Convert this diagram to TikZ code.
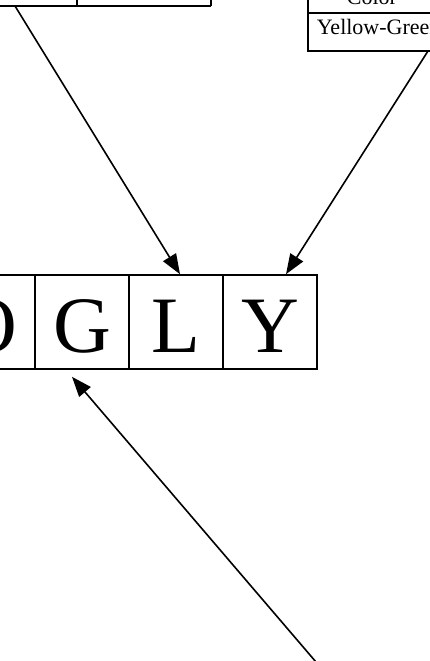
\documentclass[tikz,border=0pt]{standalone}
\usepackage{fontspec}
\setmainfont{Liberation Serif}
\usetikzlibrary{arrows.meta}
\begin{document}
\begin{tikzpicture}[x=1pt,y=-1pt,line width=1.6pt,
  letterbox/.style={draw,minimum width=94pt,minimum height=94pt,inner sep=0pt,
    text height=60pt,text depth=0pt,font=\fontsize{80}{80}\selectfont},
  cell/.style={font=\fontsize{22}{22}\selectfont,inner sep=0pt},
  conn/.style={-{Triangle[length=20pt,width=15pt]}}]
\useasboundingbox (0,0) rectangle (429,661);
% left table (partly visible)
\draw (-5,6) -- (211,6);
\draw (77,-3) -- (77,6);
\draw (211,-3) -- (211,6);
\coordinate (lsrc) at (15,6);
% right table (partly visible)
\draw (308,-3) -- (308,51) -- (440,51);
\draw (308,13) -- (440,13);
\node[cell,anchor=base] (color) at (372,5) {Color};
\node[cell,anchor=base west] (yg) at (316,35) {Yellow-Green};
\coordinate (rsrc) at (428,51);
% letter boxes
\node[letterbox] (bO) at (-12,322) {O};
\node[letterbox] (bG) at (82,322) {G};
\node[letterbox] (bL) at (176,322) {L};
\node[letterbox] (bY) at (270,322) {Y};
\coordinate (bsrc) at (316,662);
% connectors
\draw[conn] (lsrc) -- ([xshift=4pt]bL.north);
\draw[conn] (rsrc) -- ([xshift=16pt]bY.north);
\draw[conn] (bsrc) -- ([xshift=-10pt,yshift=-7pt]bG.south);
\end{tikzpicture}
\end{document}
